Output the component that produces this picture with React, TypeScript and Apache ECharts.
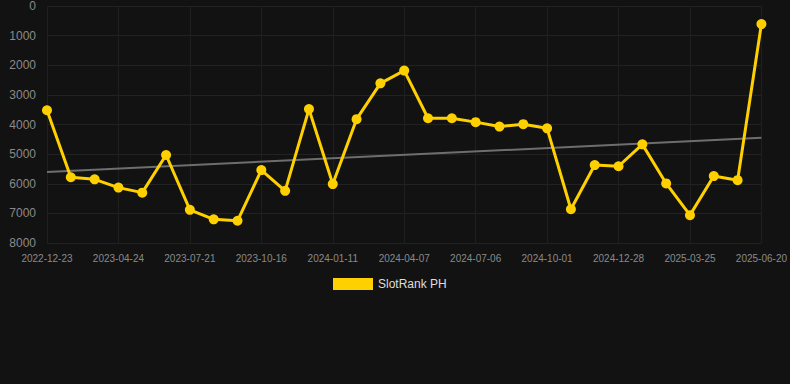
import React, { useEffect, useRef } from "react";
import * as echarts from "echarts";

const categories: string[] = [
  "2022-12-23", "2023-02-03", "2023-03-16", "2023-04-24", "2023-05-23", "2023-06-22",
  "2023-07-21", "2023-08-19", "2023-09-17", "2023-10-16", "2023-11-14", "2023-12-13",
  "2024-01-11", "2024-02-09", "2024-03-09", "2024-04-07", "2024-05-07", "2024-06-06",
  "2024-07-06", "2024-08-04", "2024-09-02", "2024-10-01", "2024-10-30", "2024-11-29",
  "2024-12-28", "2025-01-26", "2025-02-24", "2025-03-25", "2025-04-23", "2025-05-22",
  "2025-06-20",
];

const rankValues: number[] = [
  3520, 5780, 5850, 6130, 6300, 5030, 6880, 7200, 7250, 5540, 6240, 3480, 6010, 3820,
  2610, 2180, 3790, 3790, 3920, 4070, 3990, 4130, 6860, 5370, 5410, 4670, 5990, 7060,
  5740, 5880, 610,
];

const trendStart = 5600;
const trendEnd = 4450;

const yTicks = { min: 0, max: 8000, interval: 1000 };

export default function App() {
  const ref = useRef<HTMLDivElement>(null);
  useEffect(() => {
    if (!ref.current) return;
    const chart = echarts.init(ref.current, null, { renderer: "svg" });
    const trendData = categories.map((_, i) =>
      i === 0 ? trendStart : i === categories.length - 1 ? trendEnd : null
    );
    chart.setOption({
      animation: false,
      backgroundColor: "#121212",
      grid: { left: 47, right: 28, top: 6, bottom: 141 },
      legend: {
        data: [{ name: "SlotRank PH", icon: "rect" }],
        top: 273,
        left: 328,
        itemWidth: 40,
        itemHeight: 12,
        itemGap: 10,
        textStyle: { color: "#dddddd", fontSize: 12, fontFamily: "Arial, Liberation Sans, sans-serif" },
      },
      xAxis: {
        type: "category",
        data: categories,
        boundaryGap: false,
        axisLine: { show: false },
        axisTick: { show: false },
        axisLabel: {
          interval: 2,
          color: "#8a8a8a",
          fontSize: 10,
          margin: 10,
          fontFamily: "Arial, Liberation Sans, sans-serif",
        },
        splitLine: { show: true, interval: 2, lineStyle: { color: "#1f1f1f", width: 1 } },
      },
      yAxis: {
        type: "value",
        inverse: true,
        min: yTicks.min,
        max: yTicks.max,
        interval: yTicks.interval,
        axisLine: { show: false },
        axisTick: { show: false },
        axisLabel: {
          color: "#8a8a8a",
          fontSize: 12,
          margin: 11,
          fontFamily: "Arial, Liberation Sans, sans-serif",
          formatter: (v: number) => String(v),
        },
        splitLine: { show: true, lineStyle: { color: "#222222", width: 1 } },
      },
      series: [
        {
          name: "Trend",
          type: "line",
          data: trendData,
          connectNulls: true,
          showSymbol: false,
          symbol: "none",
          lineStyle: { color: "#6e6e6e", width: 2 },
          silent: true,
          z: 1,
        },
        {
          name: "SlotRank PH",
          type: "line",
          data: rankValues,
          symbol: "circle",
          symbolSize: 10,
          itemStyle: { color: "#ffd000" },
          lineStyle: { color: "#ffd000", width: 3 },
          z: 2,
        },
      ],
    });
    return () => chart.dispose();
  }, []);
  return (
    <div
      ref={ref}
      style={{ position: "fixed", left: 0, top: 0, width: 790, height: 384 }}
    />
  );
}
